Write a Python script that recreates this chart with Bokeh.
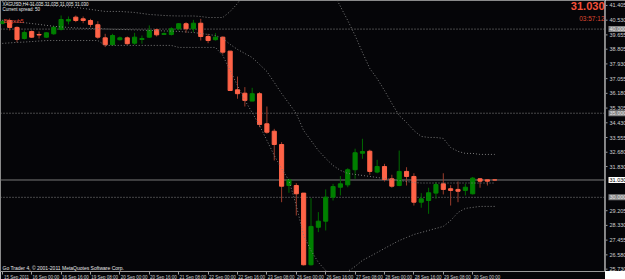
from bokeh.plotting import figure
from bokeh.layouts import row
from bokeh.models import Range1d, FixedTicker, Label, ColumnDataSource, Span, LinearAxis
from bokeh.core.properties import value
from bokeh.embed import file_html
from bokeh.resources import INLINE

# ---- data (XAGUSD, H4) ----
bar_open = [40.33, 40.51, 40.10, 39.44, 39.86, 39.68, 39.52, 39.72, 39.98, 40.48,
            40.71, 40.61, 40.51, 40.26, 39.48, 39.07, 39.37, 39.48, 39.16, 39.38,
            39.52, 39.96, 39.68, 39.68, 40.02, 40.32, 40.02, 40.35, 39.56, 39.37,
            39.52, 38.69, 36.39, 36.19, 35.72, 36.16, 34.37, 33.93, 33.14, 30.70,
            30.70, 30.25, 25.99, 28.22, 28.58, 30.01, 30.60, 30.74, 31.64, 32.62,
            32.74, 31.50, 31.83, 31.10, 30.70, 31.54, 31.24, 29.71, 29.81, 30.25,
            30.80, 30.51, 30.47, 30.41, 30.21, 31.10, 31.04, 31.035]
bar_high = [40.57, 40.63, 40.16, 39.92, 39.92, 39.86, 39.82, 40.17, 40.81, 40.75,
            40.81, 40.75, 40.61, 40.47, 39.72, 39.72, 39.56, 39.56, 39.78, 39.62,
            40.22, 40.02, 39.80, 40.11, 40.35, 40.41, 40.55, 40.61, 39.72, 39.76,
            39.56, 38.69, 37.18, 36.55, 36.51, 36.25, 35.40, 34.07, 33.28, 31.10,
            30.84, 30.25, 29.95, 29.12, 30.47, 30.80, 31.26, 31.73, 32.89, 33.48,
            32.83, 32.23, 31.99, 31.34, 32.78, 31.79, 31.43, 30.25, 30.57, 30.90,
            31.43, 30.72, 30.94, 30.80, 31.21, 31.14, 31.04, 31.035]
bar_low = [40.28, 39.92, 39.21, 39.38, 39.48, 39.44, 39.48, 39.66, 39.92, 40.28,
           40.41, 40.35, 40.11, 39.42, 38.93, 39.03, 39.32, 39.07, 39.07, 39.13,
           39.48, 39.56, 39.65, 39.62, 39.92, 39.78, 39.82, 39.32, 39.16, 39.32,
           38.49, 36.32, 35.86, 35.40, 35.72, 34.17, 33.78, 32.19, 29.71, 30.27,
           28.92, 25.95, 25.95, 27.93, 28.03, 29.81, 30.11, 30.60, 31.10, 32.29,
           31.34, 31.43, 30.94, 30.57, 30.66, 30.70, 29.51, 29.38, 29.02, 29.91,
           30.17, 29.51, 29.71, 30.11, 30.17, 30.57, 30.70, 31.005]
bar_close = [40.45, 40.10, 39.38, 39.80, 39.52, 39.65, 39.78, 40.11, 40.57, 40.57,
             40.51, 40.51, 40.28, 39.52, 39.07, 39.62, 39.48, 39.13, 39.52, 39.44,
             39.92, 39.66, 39.74, 40.02, 40.32, 40.02, 40.35, 39.56, 39.32, 39.52,
             38.63, 36.35, 36.16, 35.76, 36.16, 34.33, 33.87, 33.14, 30.66, 31.04,
             30.21, 25.99, 28.27, 28.58, 30.01, 30.64, 30.80, 31.64, 32.65, 32.72,
             31.54, 31.83, 31.06, 30.66, 31.54, 31.24, 29.71, 29.91, 30.27, 30.76,
             30.47, 30.41, 30.36, 30.60, 31.14, 30.96, 30.96, 31.030]

upper_band = [41.64, 41.60, 41.55, 41.51, 41.46, 41.43, 41.40, 41.37, 41.35, 41.32,
              41.29, 41.23, 41.17, 41.11, 41.05, 41.05, 41.05, 41.02, 40.99, 40.93,
              40.87, 40.84, 40.81, 40.79, 40.78, 40.78, 40.78, 40.75, 40.69, 40.69,
              40.69, 41.05, 41.52, 42.18, 42.89, 43.49, 44.38, 44.97, 45.27, 45.39,
              45.27, 44.97, 44.38, 43.78, 43.01, 42.18, 41.35, 40.51, 39.62, 38.61,
              37.66, 37.06, 36.35, 35.58, 34.86, 34.45, 33.97, 33.62, 33.56, 33.56,
              33.50, 32.96, 32.73, 32.61, 32.61, 32.55, 32.55, 32.55]
middle_band = [40.51, 40.47, 40.42, 40.38, 40.33, 40.28, 40.22, 40.17, 40.13, 40.10,
               40.07, 40.05, 40.04, 40.03, 40.01, 39.99, 39.98, 39.97, 39.95, 39.94,
               39.92, 39.91, 39.89, 39.88, 39.86, 39.83, 39.80, 39.74, 39.68, 39.62,
               39.44, 39.09, 38.79, 38.55, 38.31, 37.90, 37.48, 36.83, 36.17, 35.58,
               34.98, 33.97, 33.38, 32.78, 32.31, 31.89, 31.60, 31.42, 31.36, 31.30,
               31.24, 31.18, 31.12, 31.06, 31.00, 30.94, 30.88, 30.85, 30.85, 30.85,
               30.85, 30.85, 30.85, 30.85, 30.85, 30.85, 30.85, 30.85]
lower_band = [39.15, 39.18, 39.21, 39.23, 39.26, 39.29, 39.32, 39.32, 39.32, 39.32,
              39.32, 39.32, 39.32, 39.32, 39.03, 39.03, 39.03, 39.03, 39.03, 39.03,
              39.03, 39.03, 39.03, 39.03, 38.91, 38.91, 38.91, 38.91, 38.91, 38.91,
              38.43, 37.54, 36.65, 35.76, 35.04, 34.27, 33.38, 32.49, 31.71, 31.00,
              29.51, 27.73, 26.84, 26.13, 25.65, 25.35, 25.41, 25.59, 25.89, 26.25,
              26.48, 26.72, 26.96, 27.20, 27.43, 27.61, 27.79, 27.91, 28.03, 28.15,
              28.27, 28.62, 29.10, 29.34, 29.40, 29.46, 29.46, 29.46]

time_tick_index = [0, 4, 8, 12, 16, 20, 24, 28, 32, 36, 40, 44, 48, 52, 56, 60, 64]
time_tick_labels = ["15 Sep 2011", "16 Sep 00:00", "16 Sep 16:00", "19 Sep 08:00",
                    "20 Sep 00:00", "20 Sep 16:00", "21 Sep 08:00", "22 Sep 00:00",
                    "22 Sep 16:00", "23 Sep 08:00", "26 Sep 00:00", "26 Sep 16:00",
                    "27 Sep 08:00", "28 Sep 00:00", "28 Sep 16:00", "29 Sep 08:00",
                    "30 Sep 00:00"]
price_ticks = [41.405, 40.530, 39.655, 38.805, 37.930, 37.055, 36.180, 35.305, 34.430,
               33.555, 32.680, 31.830, 29.205, 28.330, 27.455, 26.580, 25.730]
level_prices = [40.0, 35.0, 30.0]
bid_price = 31.030
symbol_line = "XAGUSD,H4  31.035 31.035 31.005 31.030"
spread_line = "Current spread: 50"
indicator_name = "Bk pub5"
timer_text = "03:57:12"
copyright_text = "Go Trader 4, \u00a9 2001-2011 MetaQuotes Software Corp."

# ---- styling ----
BG = "#050508"
BULL = "#008000"
BEAR = "#FF6347"
BULL_WICK = "#006a00"
BEAR_WICK = "#9a3c2c"
AXIS = "#9a9a9a"
LABEL = "#d0d0d0"
FONT = "Liberation Sans"
FRAME_H = 271
CHART_W = 605
SCALE_W = 20
BAR_PX = 7.35
LABEL_SHIFT = 1.93   # time labels start just right of their tick

X0 = -1.8 / BAR_PX
X1 = X0 + CHART_W / BAR_PX
Y0, Y1 = 25.59, 41.70

idx = list(range(len(bar_open)))
is_bull = [c >= o for o, c in zip(bar_open, bar_close)]
src = ColumnDataSource(dict(
    x=idx,
    high=bar_high,
    low=bar_low,
    top=[max(o, c) for o, c in zip(bar_open, bar_close)],
    bottom=[min(o, c) for o, c in zip(bar_open, bar_close)],
    body=[BULL if b else BEAR for b in is_bull],
    wick=[BULL_WICK if b else BEAR_WICK for b in is_bull],
))

yr = Range1d(Y0, Y1)
p = figure(frame_width=CHART_W, frame_height=FRAME_H, x_range=Range1d(X0, X1), y_range=yr,
           y_axis_location=None, output_backend="svg", toolbar_location=None,
           min_border=0, background_fill_color=BG, border_fill_color=BG,
           outline_line_color="#8a8a8a", outline_line_width=1)
p.grid.visible = False

# time axis: tick marks on the main axis, labels on a second axis starting at each tick
ax1 = p.xaxis[0]
ax1.ticker = FixedTicker(ticks=time_tick_index)
ax1.major_label_overrides = {i: "" for i in time_tick_index}
ax1.major_label_text_font_size = "1px"
ax1.major_label_standoff = 0
ax1.axis_line_color = AXIS
ax1.major_tick_line_color = AXIS
ax1.minor_tick_line_color = None
ax1.major_tick_in = 0
ax1.major_tick_out = 3

label_pos = [i + LABEL_SHIFT for i in time_tick_index]
ax2 = LinearAxis(ticker=FixedTicker(ticks=label_pos),
                 major_label_overrides={pos: lab for pos, lab in zip(label_pos, time_tick_labels)},
                 axis_line_color=None, major_tick_line_color=None, minor_tick_line_color=None,
                 major_tick_in=0, major_tick_out=0, major_label_standoff=0,
                 major_label_text_font=FONT, major_label_text_font_size="4.5px",
                 major_label_text_color=LABEL)
p.add_layout(ax2, "below")

# horizontal levels and bid line
for lv in level_prices:
    p.add_layout(Span(location=lv, dimension="width", line_color="#8a8a8a",
                      line_dash="1 2", line_width=1, level="underlay"))
p.add_layout(Span(location=bid_price, dimension="width", line_color="#7a7a7a",
                  line_width=1, level="underlay"))

# candles
p.segment(x0="x", y0="low", x1="x", y1="high", source=src, line_color="wick", line_width=1)
p.vbar(x="x", width=0.56, top="top", bottom="bottom", source=src,
       fill_color="body", line_color="body", line_width=1)

# bands
for band in (upper_band, middle_band, lower_band):
    p.line(idx, band, line_color="#7c7c7c", line_dash="1 2", line_width=1)

# texts inside chart
p.add_layout(Label(x=X0, y=Y1, x_offset=2, y_offset=-1, text=symbol_line, text_font=FONT,
                   text_font_size="4.5px", text_baseline="top", text_color="#e8e8e8"))
p.add_layout(Label(x=X0, y=Y1, x_offset=2, y_offset=-6, text=spread_line, text_font=FONT,
                   text_font_size="4.5px", text_baseline="top", text_color="#e8e8e8"))
p.add_layout(Label(x=X0, y=Y1, x_offset=3, y_offset=-17, text=indicator_name, text_font=FONT,
                   text_font_size="5.5px", text_baseline="top", text_color="#e8432f"))
p.add_layout(Label(x=X1, y=Y1, x_offset=-1, y_offset=-1, text=f"{bid_price:.3f}", text_font=FONT,
                   text_font_size="11px", text_font_style="bold", text_align="right",
                   text_baseline="top", text_color="#f4513a"))
p.add_layout(Label(x=X1, y=Y1, x_offset=-1, y_offset=-14.5, text=timer_text, text_font=FONT,
                   text_font_size="6.5px", text_align="right", text_baseline="top",
                   text_color="#dc4530"))
p.add_layout(Label(x=X0, y=Y0, x_offset=2, y_offset=1, text=copyright_text, text_font=FONT,
                   text_font_size="5px", text_baseline="bottom", text_color="#e8e8e8"))

# ---- price scale column (shares the price range) ----
s = figure(frame_width=SCALE_W, frame_height=FRAME_H, x_range=Range1d(0, SCALE_W), y_range=yr,
           x_axis_location=None, y_axis_location=None, output_backend="svg",
           toolbar_location=None, min_border=0, background_fill_color=BG,
           border_fill_color=BG, outline_line_color=None)
s.grid.visible = False
s.segment(x0=[0] * len(price_ticks), y0=price_ticks, x1=[2] * len(price_ticks), y1=price_ticks,
          line_color=AXIS, line_width=1)
s.text(x=[4] * len(price_ticks), y=price_ticks, text=[f"{t:.3f}" for t in price_ticks],
       text_font=value(FONT), text_font_size="5.5px", text_baseline="middle",
       text_color=LABEL)
s.text(x=[3] * len(level_prices), y=level_prices, text=[f"{lv:.3f}" for lv in level_prices],
       text_font=value(FONT), text_font_size="5.5px", text_baseline="middle",
       text_color="#e6e6e6", background_fill_color="#858585", padding=1)
s.text(x=[3], y=[bid_price], text=[f"{bid_price:.3f}"],
       text_font=value(FONT), text_font_size="5.5px", text_baseline="middle",
       text_color="#000000", background_fill_color="#ffffff", padding=1)

layout = row(p, s, spacing=0)
open("out.html", "w").write(file_html(layout, INLINE))
